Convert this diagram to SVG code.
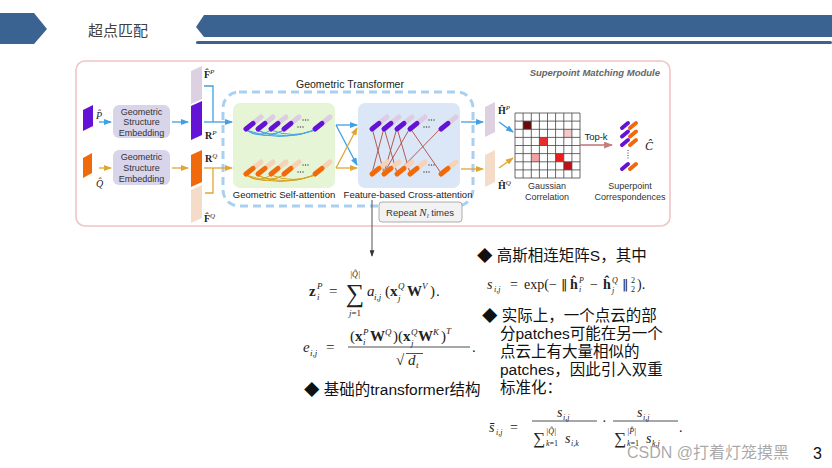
<svg xmlns="http://www.w3.org/2000/svg" width="832" height="468" viewBox="0 0 832 468">
<defs>
<style>
.sans{font-family:"Liberation Sans",Arial,sans-serif}
.lbl{font-family:"Liberation Sans",Arial,sans-serif;font-size:9px;fill:#333;text-anchor:middle}
.m{font-family:"Liberation Serif","Times New Roman",serif;fill:#222}
.cn{font-family:"Liberation Sans","Noto Sans CJK SC",sans-serif;font-size:15.5px;fill:#111}
.blue{stroke:#3fa0e6;stroke-width:1.3;fill:none}
.orng{stroke:#e0a634;stroke-width:1.3;fill:none}
.barc{stroke:#46a6e6;stroke-width:1;fill:none}
.oarc{stroke:#d8a21e;stroke-width:1;fill:none}
.xl{stroke:#b04a40;stroke-width:0.9}
.grid{stroke:#444;stroke-width:0.8}
.frac{stroke:#222;stroke-width:0.8}
.dv{font-family:"DejaVu Sans",sans-serif}
</style>
<marker id="ab" viewBox="0 0 8 6" markerWidth="8" markerHeight="6" refX="7" refY="3" orient="auto" markerUnits="userSpaceOnUse"><path d="M0,0 L8,3 L0,6 Z" fill="#3fa0e6"/></marker>
<marker id="ao" viewBox="0 0 8 6" markerWidth="8" markerHeight="6" refX="7" refY="3" orient="auto" markerUnits="userSpaceOnUse"><path d="M0,0 L8,3 L0,6 Z" fill="#e0a634"/></marker>
<marker id="ar" viewBox="0 0 8 6" markerWidth="9" markerHeight="7" refX="7" refY="3" orient="auto" markerUnits="userSpaceOnUse"><path d="M0,0 L8,3 L0,6 Z" fill="#c77b7b"/></marker>
<marker id="ag" viewBox="0 0 8 6" markerWidth="7" markerHeight="5" refX="7" refY="3" orient="auto" markerUnits="userSpaceOnUse"><path d="M0,0 L8,3 L0,6 Z" fill="#333"/></marker>
<g id="pp"><line x1="0" y1="0" x2="15" y2="-12" stroke="#dccde4" stroke-width="5" stroke-linecap="round"/><line x1="0" y1="0" x2="7" y2="-5.6" stroke="#6412d6" stroke-width="5" stroke-linecap="round"/></g>
<g id="po"><line x1="0" y1="0" x2="15" y2="-12" stroke="#f5d2b8" stroke-width="5" stroke-linecap="round"/><line x1="0" y1="0" x2="7" y2="-5.6" stroke="#f06a0c" stroke-width="5" stroke-linecap="round"/></g>
<g id="cp"><line x1="0" y1="0" x2="6" y2="-5" stroke="#6412d6" stroke-width="4" stroke-linecap="round"/><line x1="8" y1="0" x2="14" y2="-5" stroke="#f06a0c" stroke-width="4" stroke-linecap="round"/></g>
<g id="dots"><circle cx="0" cy="0" r="0.7" fill="#444"/><circle cx="2.5" cy="0" r="0.7" fill="#444"/><circle cx="5" cy="0" r="0.7" fill="#444"/></g>
</defs>

<rect width="832" height="468" fill="#fff"/>

<!-- header -->
<g id="header">
<polygon points="0,13 34,13 47,29 34,44 0,44" fill="#3b6391"/>
<text x="88" y="36" font-family="'Noto Sans CJK SC',sans-serif" font-size="15" fill="#404040">超点匹配</text>
<polygon points="196,27 204,15 832,15 832,37 204,37" fill="#3b6391"/>
<rect x="196" y="41" width="636" height="3" rx="1.5" fill="#3b6391"/>
</g>

<!-- module frame -->
<g id="module">
<rect x="76" y="61" width="594" height="165" rx="9" fill="#fff" stroke="#f2c4c4" stroke-width="1.6"/>
<text x="660" y="76" text-anchor="end" class="sans" font-size="9.5" font-weight="bold" font-style="italic" fill="#666">Superpoint Matching Module</text>
</g>

<!-- transformer frame -->
<g id="transformer">
<rect x="223" y="92" width="250" height="114" rx="16" fill="none" stroke="#a9d0f0" stroke-width="3" stroke-dasharray="8 5"/>
<text x="350" y="88" text-anchor="middle" class="sans" font-size="10.5" fill="#222">Geometric Transformer</text>
</g>

<!-- inputs -->
<g id="input-p">
<polygon points="83,110 93,105 93,126 83,131" fill="#6412d6"/>
<text class="m" x="96" y="119" font-size="10" font-style="italic">P̂</text>
</g>
<g id="input-q">
<polygon points="83,158 92,153 92,173 83,178" fill="#f06a0c"/>
<text class="m" x="96" y="187" font-size="10" font-style="italic">Q̂</text>
</g>

<g id="embed-p">
<rect x="113" y="105" width="57" height="33" rx="6" fill="#d8d4e9"/>
<text class="lbl" x="141.5" y="115">Geometric</text>
<text class="lbl" x="141.5" y="125">Structure</text>
<text class="lbl" x="141.5" y="136">Embedding</text>
</g>
<g id="embed-q">
<rect x="113" y="150" width="57" height="35" rx="6" fill="#d8d4e9"/>
<text class="lbl" x="141.5" y="160">Geometric</text>
<text class="lbl" x="141.5" y="171">Structure</text>
<text class="lbl" x="141.5" y="182">Embedding</text>
</g>

<g id="feat-p">
<polygon points="191,71 202,66 202,99 191,104" fill="#ddd0e0"/>
<polygon points="191,106 202,101 202,135 191,140" fill="#6412d6"/>
<text class="m" x="204" y="78" font-size="10" font-weight="bold">F̂<tspan font-size="7" font-style="italic" font-weight="normal" dy="-4">P</tspan></text>
<text class="m" x="205" y="139" font-size="10" font-weight="bold">R<tspan font-size="7" font-style="italic" font-weight="normal" dy="-4">P</tspan></text>
</g>
<g id="feat-q">
<polygon points="191,155 202,150 202,182 191,187" fill="#f06a0c"/>
<polygon points="191,190 202,185 202,218 191,223" fill="#f5dcc8"/>
<text class="m" x="205" y="162" font-size="10" font-weight="bold">R<tspan font-size="7" font-style="italic" font-weight="normal" dy="-4">Q</tspan></text>
<text class="m" x="204" y="222" font-size="10" font-weight="bold">F̂<tspan font-size="7" font-style="italic" font-weight="normal" dy="-4">Q</tspan></text>
</g>

<!-- self attention -->
<g id="self-attention">
<rect x="233" y="103" width="102" height="85" rx="7" fill="#e5f5d6"/>
<path class="barc" d="M246,130 Q258,139 271,130 M246,130 Q280,143 315,130 M258,130 Q270,138 284,130 M258,131 Q287,141 315,130 M271,130 Q293,139 315,130 M246,130 Q265,141 284,130"/>
<path class="oarc" d="M246,175 Q258,184 271,175 M246,175 Q280,188 315,175 M258,175 Q270,183 284,175 M258,176 Q287,186 315,175 M271,175 Q293,184 315,175 M246,175 Q265,186 284,175"/>
<use href="#pp" x="246" y="129"/><use href="#pp" x="258" y="129"/><use href="#pp" x="271" y="129"/><use href="#pp" x="284" y="129"/><use href="#pp" x="315" y="129"/>
<use href="#po" x="246" y="174"/><use href="#po" x="258" y="174"/><use href="#po" x="271" y="174"/><use href="#po" x="284" y="174"/><use href="#po" x="315" y="174"/>
<use href="#dots" x="303" y="120"/><use href="#dots" x="298" y="127"/>
<use href="#dots" x="303" y="165"/><use href="#dots" x="298" y="172"/>
<text class="sans" x="284" y="198" text-anchor="middle" font-size="9.5" fill="#222">Geometric Self-attention</text>
</g>

<!-- cross attention -->
<g id="cross-attention">
<rect x="358" y="103" width="102" height="85" rx="7" fill="#dbe7f6"/>
<line class="xl" x1="372" y1="128" x2="384" y2="173"/>
<line class="xl" x1="384" y1="128" x2="372" y2="173"/>
<line class="xl" x1="384" y1="128" x2="397" y2="173"/>
<line class="xl" x1="397" y1="128" x2="384" y2="173"/>
<line class="xl" x1="397" y1="128" x2="410" y2="173"/>
<line class="xl" x1="410" y1="128" x2="384" y2="173"/>
<line class="xl" x1="410" y1="128" x2="441" y2="173"/>
<line class="xl" x1="441" y1="128" x2="397" y2="173"/>
<use href="#pp" x="372" y="129"/><use href="#pp" x="384" y="129"/><use href="#pp" x="397" y="129"/><use href="#pp" x="410" y="129"/><use href="#pp" x="441" y="129"/>
<use href="#po" x="372" y="174"/><use href="#po" x="384" y="174"/><use href="#po" x="397" y="174"/><use href="#po" x="410" y="174"/><use href="#po" x="441" y="174"/>
<use href="#dots" x="429" y="120"/><use href="#dots" x="424" y="127"/>
<use href="#dots" x="429" y="165"/><use href="#dots" x="424" y="172"/>
<text class="sans" x="408" y="198" text-anchor="middle" font-size="9.5" fill="#222">Feature-based Cross-attention</text>
</g>

<g id="repeat">
<rect x="379" y="202" width="83" height="20" rx="3" fill="#f2f2f2" stroke="#999" stroke-width="0.8"/>
<text class="sans" x="420" y="215.5" text-anchor="middle" font-size="9.5" fill="#333">Repeat <tspan font-family="'Liberation Serif',serif" font-style="italic" font-size="11">N</tspan><tspan font-family="'Liberation Serif',serif" font-style="italic" font-size="7" dy="2">l</tspan><tspan dy="-2"> times</tspan></text>
</g>

<!-- outputs -->
<g id="out-p">
<polygon points="485,107 495,102 495,132 485,137" fill="#ddd0e0"/>
<text class="m" x="498" y="114" font-size="10" font-weight="bold">Ĥ<tspan font-size="7" font-style="italic" font-weight="normal" dy="-4">P</tspan></text>
</g>
<g id="out-q">
<polygon points="485,155 495,150 495,182 485,187" fill="#f5dcc8"/>
<text class="m" x="498" y="189" font-size="10" font-weight="bold">Ĥ<tspan font-size="7" font-style="italic" font-weight="normal" dy="-4">Q</tspan></text>
</g>

<g id="gaussian">
<rect x="515" y="113" width="65" height="65" fill="#fff"/>
<rect x="523.1" y="121.1" width="8.1" height="8.1" fill="#6a0b0b"/>
<rect x="563.8" y="129.3" width="8.1" height="8.1" fill="#f8c8c8"/>
<rect x="539.4" y="137.4" width="8.1" height="8.1" fill="#e82c2c"/>
<rect x="531.3" y="153.6" width="8.1" height="8.1" fill="#f2a2a2"/>
<rect x="555.6" y="153.6" width="8.1" height="8.1" fill="#ee1c1c"/>
<rect x="563.8" y="161.8" width="8.1" height="8.1" fill="#c0101a"/>
<path class="grid" d="M515,113V178M523.1,113V178M531.3,113V178M539.4,113V178M547.5,113V178M555.6,113V178M563.8,113V178M571.9,113V178M580,113V178M515,113H580M515,121.1H580M515,129.3H580M515,137.4H580M515,145.5H580M515,153.6H580M515,161.8H580M515,169.9H580M515,178H580"/>
<text class="lbl" x="547" y="189">Gaussian</text>
<text class="lbl" x="547" y="200">Correlation</text>
</g>

<g id="correspondences">
<use href="#cp" x="622" y="128"/><use href="#cp" x="622" y="136.5"/><use href="#cp" x="622" y="145"/>
<line x1="628" y1="150" x2="628" y2="160" stroke="#444" stroke-width="1" stroke-dasharray="1 1.5"/>
<use href="#cp" x="622" y="169"/>
<text class="m" x="645" y="150" font-size="12" font-style="italic">Ĉ</text>
<text class="lbl" x="630" y="189" font-size="9.5">Superpoint</text>
<text class="lbl" x="630" y="200" font-size="9.5">Correspondences</text>
</g>

<!-- connectors -->
<g id="connectors">
<line class="blue" x1="99" y1="122" x2="111" y2="122" marker-end="url(#ab)"/>
<line class="blue" x1="172" y1="122" x2="188" y2="122" marker-end="url(#ab)"/>
<polyline class="blue" points="204,86 213,86 213,122"/>
<line class="blue" x1="204" y1="122" x2="232" y2="122" marker-end="url(#ab)"/>
<line class="orng" x1="99" y1="168" x2="111" y2="168" marker-end="url(#ao)"/>
<line class="orng" x1="172" y1="168" x2="188" y2="168" marker-end="url(#ao)"/>
<polyline class="orng" points="205,193 213,193 213,168"/>
<line class="orng" x1="204" y1="168" x2="232" y2="168" marker-end="url(#ao)"/>
<line class="blue" x1="336" y1="125" x2="357" y2="125" marker-end="url(#ab)"/>
<line class="blue" x1="336" y1="125" x2="357" y2="165" marker-end="url(#ab)"/>
<line class="orng" x1="336" y1="168" x2="357" y2="168" marker-end="url(#ao)"/>
<line class="orng" x1="336" y1="168" x2="357" y2="128" marker-end="url(#ao)"/>
<line class="blue" x1="461" y1="122" x2="483" y2="122" marker-end="url(#ab)"/>
<line class="orng" x1="461" y1="169" x2="483" y2="169" marker-end="url(#ao)"/>
<line class="blue" x1="499" y1="122" x2="513" y2="132" marker-end="url(#ab)"/>
<line class="orng" x1="499" y1="168" x2="513" y2="158" marker-end="url(#ao)"/>
<line x1="580" y1="145" x2="612" y2="145" stroke="#c77b7b" stroke-width="1.6" marker-end="url(#ar)"/>
<text class="sans" x="596" y="140" text-anchor="middle" font-size="9.5" fill="#222">Top-k</text>
<line x1="372" y1="200" x2="372" y2="256" stroke="#555" stroke-width="1" marker-end="url(#ag)"/>
</g>

<!-- formula: z -->
<g id="formula-z" class="m">
<text font-size="15" y="296"><tspan x="309" font-weight="bold">z</tspan><tspan x="317" y="289" font-size="9" font-style="italic">P</tspan><tspan x="317" y="300" font-size="9" font-style="italic">i</tspan><tspan x="329" y="296">=</tspan></text>
<text x="355" y="302" font-size="26" text-anchor="middle">∑</text>
<text x="355" y="277" font-size="8" font-style="italic" text-anchor="middle">|Q̂|</text>
<text x="355" y="316" font-size="9" font-style="italic" text-anchor="middle">j<tspan font-style="normal">=1</tspan></text>
<text font-size="15" y="296"><tspan x="367" font-style="italic">a</tspan><tspan x="374" y="300" font-size="9" font-style="italic">i,j</tspan><tspan x="385" y="296">(</tspan><tspan x="390" font-weight="bold">x</tspan><tspan x="398" y="289" font-size="9" font-style="italic">Q</tspan><tspan x="398" y="301" font-size="9" font-style="italic">j</tspan><tspan x="407" y="296" font-weight="bold">W</tspan><tspan x="422" y="289" font-size="9" font-style="italic">V</tspan><tspan x="430" y="296">)</tspan><tspan x="436">.</tspan></text>
</g>

<!-- formula: e -->
<g id="formula-e" class="m">
<text font-size="15" y="352"><tspan x="303" font-style="italic">e</tspan><tspan x="310" y="356" font-size="9" font-style="italic">i,j</tspan><tspan x="326" y="352">=</tspan></text>
<text font-size="15" y="341"><tspan x="350">(</tspan><tspan x="355" font-weight="bold">x</tspan><tspan x="363" y="335" font-size="9" font-style="italic">P</tspan><tspan x="363" y="345" font-size="9" font-style="italic">i</tspan><tspan x="370" y="341" font-weight="bold">W</tspan><tspan x="385" y="335" font-size="9" font-style="italic">Q</tspan><tspan x="393" y="341">)(</tspan><tspan x="403" font-weight="bold">x</tspan><tspan x="411" y="335" font-size="9" font-style="italic">Q</tspan><tspan x="411" y="346" font-size="9" font-style="italic">j</tspan><tspan x="418" y="341" font-weight="bold">W</tspan><tspan x="433" y="335" font-size="9" font-style="italic">K</tspan><tspan x="441" y="341">)</tspan><tspan x="446" y="334" font-size="9" font-style="italic">T</tspan></text>
<line class="frac" x1="348" y1="347" x2="470" y2="347"/>
<text font-size="15" y="365"><tspan x="396">√</tspan><tspan x="408" font-style="italic">d</tspan><tspan x="416" y="368" font-size="9" font-style="italic">t</tspan></text>
<line class="frac" x1="406" y1="353.5" x2="423" y2="353.5"/>
<text x="472" y="352" font-size="15">.</text>
</g>

<text class="cn" x="304" y="395" font-size="15">◆ 基础的transformer结构</text>

<text class="cn" x="477" y="261">◆ 高斯相连矩阵S，其中</text>

<!-- formula: s -->
<g id="formula-s" class="m">
<text font-size="14" y="289"><tspan x="487" font-style="italic">s</tspan><tspan x="494" y="292" font-size="8" font-style="italic">i,j</tspan><tspan x="510" y="289">=</tspan><tspan x="524">exp(−</tspan><tspan x="561" class="dv" font-size="13">‖</tspan><tspan x="570" y="289" font-weight="bold">ĥ</tspan><tspan x="579" y="283" font-size="8" font-style="italic">P</tspan><tspan x="579" y="292" font-size="8" font-style="italic">i</tspan><tspan x="590" y="289">−</tspan><tspan x="603" font-weight="bold">ĥ</tspan><tspan x="612" y="283" font-size="8" font-style="italic">Q</tspan><tspan x="612" y="293" font-size="8" font-style="italic">j</tspan><tspan x="622" y="289" class="dv" font-size="13">‖</tspan><tspan x="631" y="283" font-size="8">2</tspan><tspan x="631" y="292" font-size="8">2</tspan><tspan x="637" y="289">).</tspan></text>
</g>

<text class="cn" x="482" y="321">◆ 实际上，一个点云的部</text>
<text class="cn" x="500" y="339">分patches可能在另一个</text>
<text class="cn" x="500" y="357">点云上有大量相似的</text>
<text class="cn" x="500" y="375">patches，因此引入双重</text>
<text class="cn" x="500" y="393">标准化：</text>

<!-- formula: s bar -->
<g id="formula-sbar" class="m">
<text font-size="14" y="432"><tspan x="489" font-style="italic">s̄</tspan><tspan x="496" y="435" font-size="8" font-style="italic">i,j</tspan><tspan x="510" y="432">=</tspan></text>
<text font-size="14" y="417"><tspan x="557" font-style="italic">s</tspan><tspan x="563" y="420" font-size="8" font-style="italic">i,j</tspan></text>
<line class="frac" x1="532" y1="421" x2="597" y2="421"/>
<text font-size="14" y="443"><tspan x="533" font-size="17" y="444">∑</tspan><tspan x="546" y="434" font-size="8" font-style="italic">|Q̂|</tspan><tspan x="546" y="446" font-size="8" font-style="italic">k<tspan font-style="normal">=1</tspan></tspan><tspan x="565" y="443" font-style="italic">s</tspan><tspan x="571" y="446" font-size="8" font-style="italic">i,k</tspan></text>
<text x="602" y="426" font-size="14">·</text>
<text font-size="14" y="417"><tspan x="637" font-style="italic">s</tspan><tspan x="643" y="420" font-size="8" font-style="italic">i,j</tspan></text>
<line class="frac" x1="613" y1="421" x2="678" y2="421"/>
<text font-size="14" y="443"><tspan x="614" font-size="17" y="444">∑</tspan><tspan x="627" y="434" font-size="8" font-style="italic">|P̂|</tspan><tspan x="627" y="446" font-size="8" font-style="italic">k<tspan font-style="normal">=1</tspan></tspan><tspan x="646" y="443" font-style="italic">s</tspan><tspan x="652" y="446" font-size="8" font-style="italic">k,j</tspan></text>
<text x="679" y="432" font-size="14">.</text>
</g>

<text x="627" y="458" font-family="'Liberation Sans','Noto Sans CJK SC',sans-serif" font-size="16" fill="#9a9a9a" fill-opacity="0.85">CSDN @打着灯笼摸黑</text>
<text x="813" y="459" class="sans" font-size="16" fill="#111">3</text>
</svg>
